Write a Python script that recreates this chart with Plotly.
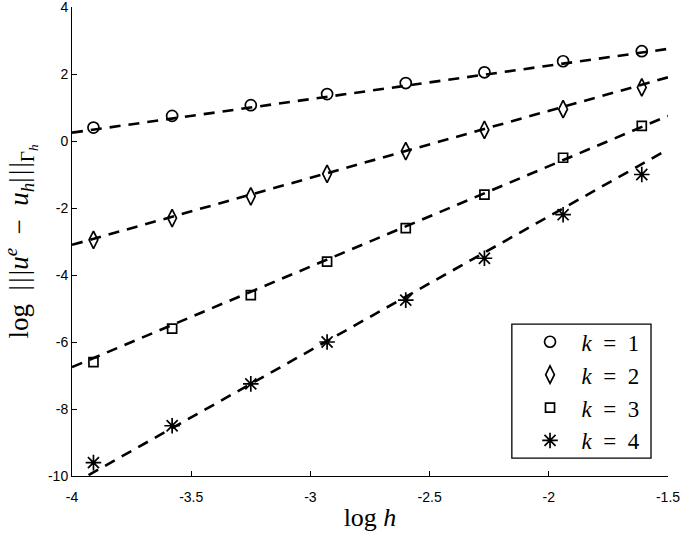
import numpy as np
import plotly.graph_objects as go

# data
log_h = [-3.91, -3.58, -3.25, -2.93, -2.60, -2.27, -1.94, -1.61]
err_k1 = [0.40, 0.75, 1.07, 1.40, 1.73, 2.05, 2.38, 2.68]
err_k2 = [-2.95, -2.30, -1.65, -0.98, -0.30, 0.33, 0.95, 1.60]
err_k3 = [-6.60, -5.60, -4.60, -3.60, -2.60, -1.60, -0.50, 0.45]
err_k4 = [-9.60, -8.50, -7.25, -6.00, -4.75, -3.50, -2.20, -1.00]
series_names = ["\u2002<i>k</i>\u2002=\u20021", "\u2002<i>k</i>\u2002=\u20022",
                "\u2002<i>k</i>\u2002=\u20023", "\u2002<i>k</i>\u2002=\u20024"]
fit_slopes = [1, 2, 3, 4]
fit_intercepts = [4.25, 4.90, 5.25, 5.75]
x_ticks = [-4, -3.5, -3, -2.5, -2, -1.5]
x_ticktext = ["-4", "-3.5", "-3", "-2.5", "-2", "-1.5"]
y_ticks = [-10, -8, -6, -4, -2, 0, 2, 4]
y_ticktext = ["-10", "-8", "-6", "-4", "-2", "0", "2", "4"]

symbols = ["circle-open", "diamond-tall-open", "square-open", "asterisk-open"]
sizes = [11, 12.5, 9, 13]
serif = "Liberation Serif"
bars = "|\u200a|\u200a|"
y_title = ("log\u2002" + bars + "<i>u</i><sup><i>e</i></sup>\u2002−\u2002<i>u</i><sub><i>h</i></sub>"
           + bars + "<sub>Γ<sub><i>h</i></sub></sub>")

fig = go.Figure()
xfit = np.array([-4.0, -1.5])
for s, b in zip(fit_slopes, fit_intercepts):
    fig.add_trace(go.Scatter(x=xfit, y=s * xfit + b, mode="lines",
                             line=dict(color="black", width=2.6, dash="11px,8px"),
                             showlegend=False, hoverinfo="skip"))
for name, ys, sym, sz in zip(series_names, [err_k1, err_k2, err_k3, err_k4], symbols, sizes):
    fig.add_trace(go.Scatter(x=log_h, y=ys, mode="markers", name=name,
                             marker=dict(symbol=sym, size=sz, color="black",
                                         line=dict(color="black", width=1.7))))

# legend box
fig.add_shape(type="rect", xref="paper", yref="paper",
              x0=0.738, x1=0.9715, y0=0.038, y1=0.324,
              line=dict(color="black", width=1.3), fillcolor="white", layer="below")

fig.update_layout(
    width=685, height=538,
    margin=dict(l=72, r=17, t=7, b=62),
    plot_bgcolor="white", paper_bgcolor="white",
    font=dict(family="Liberation Sans", size=14, color="black"),
    legend=dict(x=0.7685, y=0.332, xanchor="left", yanchor="top",
                borderwidth=0, bgcolor="rgba(0,0,0,0)",
                font=dict(family=serif, size=23), tracegroupgap=0),
    xaxis=dict(range=[-4, -1.5], tickvals=x_ticks, ticktext=x_ticktext,
               ticks="inside", ticklen=5, tickcolor="black", showgrid=False,
               zeroline=False, showline=True, linecolor="black", linewidth=1,
               automargin=False, ticklabeloverflow="allow", ticklabelstandoff=8,
               title=dict(text="log <i>h</i>", font=dict(family=serif, size=26), standoff=4)),
    yaxis=dict(range=[-10, 4], tickvals=y_ticks, ticktext=y_ticktext,
               ticks="inside", ticklen=5, tickcolor="black", showgrid=False,
               zeroline=False, showline=True, linecolor="black", linewidth=1,
               automargin=False, ticklabeloverflow="allow",
               title=dict(text=y_title, font=dict(family=serif, size=27), standoff=14)),
)
fig.write_html("out.html", config={"displayModeBar": False},
               post_script="document.body.style.margin='0';")
